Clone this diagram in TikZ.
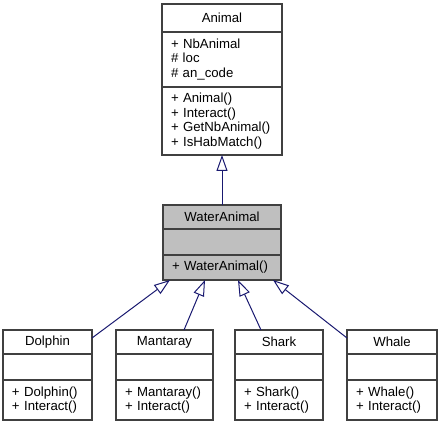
\documentclass[tikz,border=0pt]{standalone}
\usepackage{fontspec}
\setmainfont{Liberation Sans}
\usetikzlibrary{arrows.meta,positioning}
\definecolor{edgeblue}{HTML}{191970}
\definecolor{boxgray}{HTML}{404040}
\definecolor{focusgray}{HTML}{BFBFBF}

\begin{document}
\begin{tikzpicture}[x=1pt,y=-1pt,node distance=0pt,font=\fontsize{13.2}{14.5}\selectfont]
        % Define styles
        \tikzstyle{part} = [rectangle, draw=boxgray, line width=1.2pt, fill=white, inner xsep=9pt, inner ysep=2pt, outer sep=0pt]
        \tikzstyle{head} = [part, align=center]
        \tikzstyle{list} = [part, align=left, execute at begin node={\hyphenpenalty=10000}]
        \tikzstyle{focus} = [fill=focusgray]
        \tikzstyle{inherit} = [draw=edgeblue, line width=1pt, -{Triangle[open, length=16pt, width=11pt]}]

        \useasboundingbox (0,0) rectangle (440,427);

        % Base class
        \node (animal) [head, minimum width=120pt, minimum height=28pt] at (222,18) {Animal};
        \node (animal attr) [list, text width=102pt, minimum height=55pt, below=of animal] {+ NbAnimal\\\# loc\\\# an\_code};
        \node (animal ops) [list, text width=102pt, minimum height=68pt, below=of animal attr] {+ Animal()\\+ Interact()\\+ GetNbAnimal()\\+ IsHabMatch()};

        % Middle class
        \node (water) [head, focus, minimum width=118pt, minimum height=24pt] at (222,217) {WaterAnimal};
        \node (water attr) [part, focus, minimum width=118pt, minimum height=26pt, below=of water] {};
        \node (water ops) [list, focus, text width=100pt, minimum height=25pt, below=of water attr] {+ WaterAnimal()};

        % Leaf classes
        \node (dolphin) [head, minimum width=89pt, minimum height=24pt] at (47.5,342) {Dolphin};
        \node (dolphin attr) [part, minimum width=89pt, minimum height=26pt, below=of dolphin] {};
        \node (dolphin ops) [list, text width=71pt, minimum height=40pt, below=of dolphin attr] {+ Dolphin()\\+ Interact()};

        \node (mantaray) [head, minimum width=97pt, minimum height=24pt] at (164.5,342) {Mantaray};
        \node (mantaray attr) [part, minimum width=97pt, minimum height=26pt, below=of mantaray] {};
        \node (mantaray ops) [list, text width=79pt, minimum height=40pt, below=of mantaray attr] {+ Mantaray()\\+ Interact()};

        \node (shark) [head, minimum width=88pt, minimum height=24pt] at (279,342) {Shark};
        \node (shark attr) [part, minimum width=88pt, minimum height=26pt, below=of shark] {};
        \node (shark ops) [list, text width=70pt, minimum height=40pt, below=of shark attr] {+ Shark()\\+ Interact()};

        \node (whale) [head, minimum width=90pt, minimum height=24pt] at (392,342) {Whale};
        \node (whale attr) [part, minimum width=90pt, minimum height=26pt, below=of whale] {};
        \node (whale ops) [list, text width=72pt, minimum height=40pt, below=of whale attr] {+ Whale()\\+ Interact()};

        % Inheritance
        \draw[inherit] (water) -- (animal ops);
        \draw[inherit] ([yshift=4pt]dolphin.east) -- ([xshift=7pt]water ops.south west);
        \draw[inherit] ([xshift=19.5pt]mantaray.north) -- ([xshift=42pt]water ops.south west);
        \draw[inherit] ([xshift=-18pt]shark.north) -- ([xshift=-43pt]water ops.south east);
        \draw[inherit] ([yshift=4pt]whale.west) -- ([xshift=-8pt]water ops.south east);

    \end{tikzpicture}
\end{document}
